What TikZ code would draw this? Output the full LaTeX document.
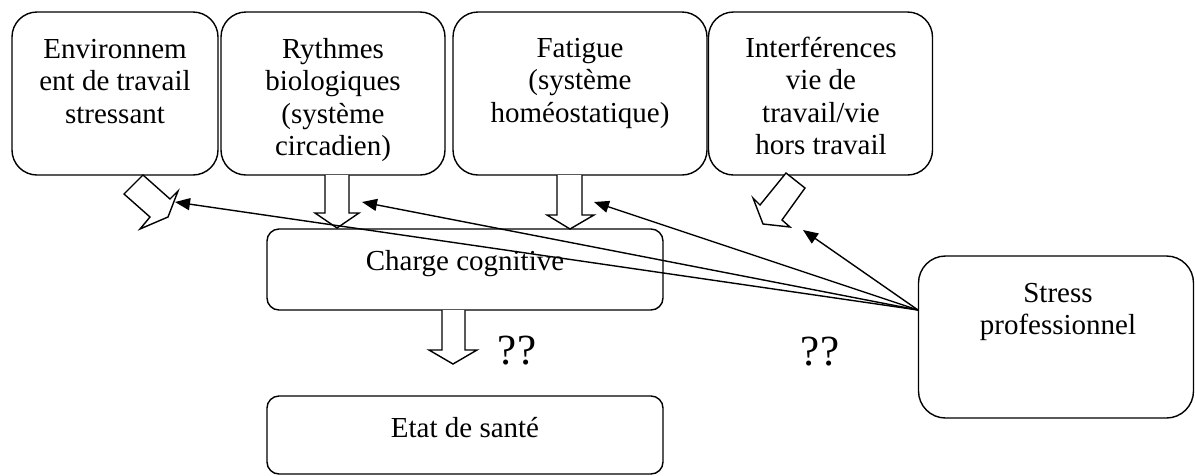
\documentclass[tikz,border=0pt]{standalone}
\usepackage{fontspec}
\setmainfont{Liberation Serif}
\usetikzlibrary{arrows.meta}
\tikzset{
  box/.style={draw, line width=1.4pt, rounded corners=#1, inner sep=0pt},
  box/.default=25pt,
  txt/.style={anchor=base, align=center, inner sep=0pt, font=\fontsize{29}{32.5}\selectfont},
  qq/.style={anchor=base, inner sep=0pt, font=\fontsize{43}{46}\selectfont},
  blockarrow/.style={draw, fill=white, line width=1.4pt, line join=miter},
  thin/.style={line width=1.4pt, -{Triangle[length=15pt, width=12pt]}}
}
\begin{document}
\begin{tikzpicture}[x=1pt, y=-1pt]
\useasboundingbox (0,0) rectangle (1195,475);
% boxes
\node[box, minimum width=206pt, minimum height=163pt] (b1) at (115,93.5) {};
\node[box, minimum width=224pt, minimum height=163pt] (b2) at (333,93.5) {};
\node[box, minimum width=254pt, minimum height=163pt] (b3) at (580,93.5) {};
\node[box, minimum width=224pt, minimum height=163pt] (b4) at (820.5,93.5) {};
\node[box=12pt, minimum width=396pt, minimum height=81pt] (cc) at (465,269.5) {};
\node[box=12pt, minimum width=396pt, minimum height=78pt] (es) at (465,435) {};
\node[box=27pt, minimum width=275pt, minimum height=162pt] (sp) at (1056,337) {};
% texts (anchor base = last line)
\node[txt] (t1) at (115,123) {Environnem\\ent de travail\\stressant};
\node[txt] (t2) at (333,155.5) {Rythmes\\biologiques\\(système\\circadien)};
\node[txt] (t3) at (580,122) {Fatigue\\(système\\homéostatique)};
\node[txt] (t4) at (821,154.5) {Interférences\\vie de\\travail/vie\\hors travail};
\node[txt] (t5) at (465,270) {Charge cognitive};
\node[txt] (t6) at (465,437) {Etat de santé};
\node[txt] (t7) at (1058,334.5) {Stress\\professionnel};
\node[qq] (q1) at (517,364) {??};
\node[qq] (q2) at (820,365) {??};
% block arrows
\draw[blockarrow] (143,175) -- (124,194) -- (150,217) -- (140,229) -- (168,217) -- (178,191) -- (170,199) -- cycle;
\draw[blockarrow] (325,175) -- (325,213) -- (315,213) -- (337,228) -- (359,213) -- (349,213) -- (349,175);
\draw[blockarrow] (557,175) -- (557,215) -- (547,215) -- (570,229) -- (594,215) -- (582,215) -- (582,175);
\draw[blockarrow] (442,310) -- (442,350) -- (429,350) -- (453,364) -- (477,350) -- (465,350) -- (465,310);
\draw[blockarrow] (786,173) -- (805,188) -- (782,220) -- (790,227) -- (763,224) -- (753,198) -- (760,205) -- cycle;
% thin arrows
\coordinate (s) at (918,310);
\coordinate (e1) at (175,202);
\coordinate (e2) at (362,202);
\coordinate (e3) at (594,202);
\coordinate (e4) at (803,230);
\draw[thin] (s) -- (e1);
\draw[thin] (s) -- (e2);
\draw[thin] (s) -- (e3);
\draw[thin] (s) -- (e4);
\end{tikzpicture}
\end{document}
